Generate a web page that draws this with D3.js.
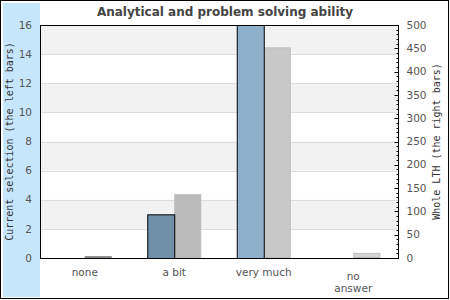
<!DOCTYPE html>
<html>
<head>
<meta charset="utf-8">
<script src="https://cdn.jsdelivr.net/npm/d3@7"></script>
<style>
  body { margin: 0; background: #fff; }
</style>
</head>
<body>
<div id="chart"></div>
<script>

// data
var categories = ["none", "a bit", "very much", "no answer"];
var currentSelection = [0, 3, 16, 0];      // left bars, left axis
var wholeLTH = [4, 137, 452, 11];          // right bars, right axis
var leftTicks = [0, 2, 4, 6, 8, 10, 12, 14, 16];
var rightTicks = [0, 50, 100, 150, 200, 250, 300, 350, 400, 450, 500];

// bar shades per category
var leftColors = ["#7090aa", "#7090aa", "#8eb0cb", "#8eb0cb"];
var rightColors = ["#9a9a9a", "#bbbbbb", "#c8c8c8", "#d4d4d4"];
var rightStroke = ["#888888", "#bbbbbb", "#bdbdbd", "#bcbcbc"];

var W = 450, H = 300;
var margin = {top: 25, right: 52, bottom: 42, left: 40};
var width = W - margin.left - margin.right,
    height = H - margin.top - margin.bottom;

var svg = d3.select("#chart").append("svg")
  .attr("width", W).attr("height", H)
  .style("font-family", "'DejaVu Sans', sans-serif");

// outer frame
svg.append("rect")
  .attr("x", 0.5).attr("y", 0.5).attr("width", W - 2).attr("height", H - 2)
  .attr("fill", "#fff").attr("stroke", "#000");

// light blue side panel
svg.append("rect")
  .attr("x", 3).attr("y", 3).attr("width", margin.left - 3).attr("height", H - 6)
  .attr("fill", "#c6e6fd");

svg.append("text")
  .attr("x", 225).attr("y", 16)
  .attr("text-anchor", "middle")
  .style("font-weight", "bold").style("font-size", "12px").style("fill", "#444")
  .text("Analytical and problem solving ability");

var g = svg.append("g")
  .attr("transform", "translate(" + margin.left + "," + margin.top + ")");

var x = d3.scaleBand().domain(categories).range([0, width]);
var yL = d3.scaleLinear().domain([0, 16]).range([height, 0]);
var yR = d3.scaleLinear().domain([0, 500]).range([height, 0]);

// alternating bands
for (var i = 0; i < leftTicks.length - 1; i++) {
  if (i % 2 == 1) {
    g.append("rect")
      .attr("x", 0).attr("width", width)
      .attr("y", yL(leftTicks[i + 1])).attr("height", yL(leftTicks[i]) - yL(leftTicks[i + 1]))
      .attr("fill", "#f2f2f2");
  }
}
g.selectAll(".grid").data(leftTicks.slice(1, -1)).join("line")
  .attr("x1", 0).attr("x2", width)
  .attr("y1", d => Math.round(yL(d)) + 0.5).attr("y2", d => Math.round(yL(d)) + 0.5)
  .attr("stroke", "#dddddd");

var barW = 27;
var data = categories.map((c, i) => ({cat: c, l: currentSelection[i], r: wholeLTH[i], i: i}));

// right bars (Whole LTH)
g.selectAll(".rbar").data(data).join("rect")
  .attr("x", d => x(d.cat) + x.bandwidth() / 2 + 0.5)
  .attr("y", d => yR(d.r) + 0.5)
  .attr("width", barW - 1)
  .attr("height", d => Math.max(0, yR(0) - yR(d.r) - 1))
  .attr("fill", d => rightColors[d.i])
  .attr("stroke", d => rightStroke[d.i]);

// left bars (current selection)
g.selectAll(".lbar").data(data.filter(d => d.l > 0)).join("rect")
  .attr("x", d => x(d.cat) + x.bandwidth() / 2 - barW + 0.5)
  .attr("y", d => yL(d.l) + 0.5)
  .attr("width", barW)
  .attr("height", d => yL(0) - yL(d.l))
  .attr("fill", d => leftColors[d.i])
  .attr("stroke", "#000");

// plot border
g.append("rect")
  .attr("x", 0.5).attr("y", 0.5).attr("width", width).attr("height", height)
  .attr("fill", "none").attr("stroke", "#000");

// left axis labels
g.selectAll(".lt").data(leftTicks).join("text")
  .attr("x", -8).attr("y", d => yL(d)).attr("dy", "0.35em")
  .attr("text-anchor", "end")
  .style("font-size", "10.5px").style("fill", "#555")
  .text(d => d);

// right axis
var rAxis = g.append("g")
  .attr("transform", "translate(" + (width + 0.5) + ",0)");
rAxis.selectAll(".minor").data(d3.range(0, 501, 10)).join("line")
  .attr("x1", d => d % 50 == 0 ? -4 : -2).attr("x2", 0)
  .attr("y1", d => Math.round(yR(d)) + 0.5).attr("y2", d => Math.round(yR(d)) + 0.5)
  .attr("stroke", "#000");
rAxis.selectAll(".rt").data(rightTicks).join("text")
  .attr("x", 8).attr("y", d => yR(d)).attr("dy", "0.35em")
  .style("font-size", "10.5px").style("fill", "#555")
  .text(d => d);

// category labels
var cl = g.selectAll(".cl").data(categories).join("text")
  .attr("text-anchor", "middle")
  .attr("transform", d => "translate(" + (x(d) + x.bandwidth() / 2) + "," + (height + 18) + ")")
  .style("font-size", "10.5px").style("fill", "#555");
cl.each(function(d) {
  var words = d == "no answer" ? ["no", "answer"] : [d];
  var t = d3.select(this);
  words.forEach((w, k) => {
    t.append("tspan").attr("x", 0).attr("dy", k == 0 ? (words.length > 1 ? 4 : 0) : 12).text(w);
  });
});

// axis titles
svg.append("text")
  .attr("transform", "translate(13," + (margin.top + height / 2) + ") rotate(-90)")
  .attr("text-anchor", "middle")
  .style("font-family", "'DejaVu Sans Mono', monospace").style("font-size", "10px").style("fill", "#333")
  .text("Current selection (the left bars)");
svg.append("text")
  .attr("transform", "translate(440," + (margin.top + height / 2) + ") rotate(-90)")
  .attr("text-anchor", "middle")
  .style("font-family", "'DejaVu Sans Mono', monospace").style("font-size", "10px").style("fill", "#333")
  .text("Whole LTH (the right bars)");

</script>
</body>
</html>
